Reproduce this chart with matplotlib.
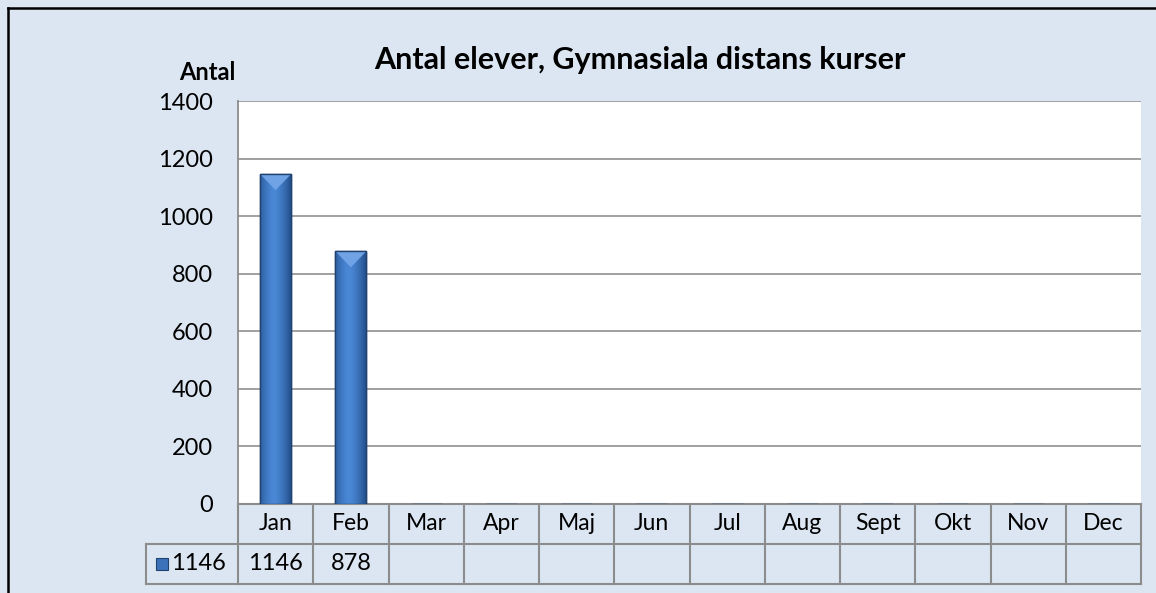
import numpy as np
import matplotlib
matplotlib.use("Agg")
import matplotlib.pyplot as plt
from matplotlib.lines import Line2D
from matplotlib.patches import Rectangle, Polygon
from matplotlib.colors import LinearSegmentedColormap
import matplotlib.transforms as mtransforms

# Datos
manader = ['Jan', 'Feb', 'Mar', 'Apr', 'Maj', 'Jun', 'Jul', 'Aug', 'Sept', 'Okt', 'Nov', 'Dec']
antal = [1146, 878, None, None, None, None, None, None, None, None, None, None]
serie_namn = '1146'
y_ticks = [0, 200, 400, 600, 800, 1000, 1200, 1400]

plt.rcParams['font.family'] = ['Lato', 'DejaVu Sans']

bg = '#DCE6F2'
linje = '#8C8C8C'

fig = plt.figure(figsize=(11.56, 5.93), dpi=100)
fig.patch.set_facecolor(bg)

ax = fig.add_axes([238 / 1156, 89 / 593, 903 / 1156, 403 / 593])
ax.set_facecolor('white')

x = np.arange(len(manader))
varden = [v if v is not None else 0 for v in antal]
bars = ax.bar(x, varden, width=0.41, color='#3B72BA', edgecolor='#1F426F', linewidth=1, zorder=3)

# gradient i staplarna
grad = np.linspace(0, 1, 64)
grad = 1 - (2 * np.abs(grad - 0.45)) ** 1.5
grad = np.tile(grad, (2, 1))
cmap = LinearSegmentedColormap.from_list('blabar', ['#24508C', '#4A88D6'])
for b, v in zip(bars, antal):
    if v is None:
        continue
    x0, w, h = b.get_x(), b.get_width(), b.get_height()
    im = ax.imshow(grad, cmap=cmap, extent=(x0, x0 + w, 0, h), aspect='auto', zorder=3.5)
    im.set_clip_path(b)
    # ljus avfasning upptill
    d = 16 * 1400 / 403
    ax.add_patch(Polygon([(x0, h), (x0 + w, h), (x0 + w * 0.5, h - d)], closed=True,
                         facecolor='#6FA3E6', edgecolor='none', zorder=3.8))
    ax.add_patch(Rectangle((x0, 0), w, h, fill=False, edgecolor='#1F426F', linewidth=1, zorder=4))

ax.set_xlim(-0.5, len(manader) - 0.5)
ax.set_ylim(0, 1400)
ax.set_yticks(y_ticks)
ax.set_yticklabels([str(t) for t in y_ticks], fontsize=17)
ax.tick_params(axis='y', length=0, pad=18)
ax.set_xticks([])
ax.yaxis.grid(True, color='#868686', linewidth=1.1, zorder=0)
ax.set_axisbelow(True)
for s in ['top', 'right', 'bottom']:
    ax.spines[s].set_visible(False)
ax.spines['left'].set_color(linje)
ax.spines['left'].set_linewidth(1.3)

# tabell under diagrammet
trans = mtransforms.blended_transform_factory(ax.transData, ax.transAxes)
rad = 40 / 403
lw = 1.5
for i in range(len(manader) + 1):
    ax.add_line(Line2D([i - 0.5, i - 0.5], [0, -2 * rad], transform=trans, color=linje, lw=lw, clip_on=False))
for yy in [0, -rad, -2 * rad]:
    ax.add_line(Line2D([-0.5, len(manader) - 0.5], [yy, yy], transform=trans, color=linje, lw=lw, clip_on=False))
for i, m in enumerate(manader):
    ax.text(i, -0.5 * rad, m, transform=trans, ha='center', va='center', fontsize=16.5)
    if antal[i] is not None:
        ax.text(i, -1.5 * rad, str(antal[i]), transform=trans, ha='center', va='center', fontsize=17)

# legendcell
lx = (146 - 238) / 903
ax.add_line(Line2D([lx, 0], [-rad, -rad], transform=ax.transAxes, color=linje, lw=lw, clip_on=False))
ax.add_line(Line2D([lx, 0], [-2 * rad, -2 * rad], transform=ax.transAxes, color=linje, lw=lw, clip_on=False))
ax.add_line(Line2D([lx, lx], [-rad, -2 * rad], transform=ax.transAxes, color=linje, lw=lw, clip_on=False))
ax.add_patch(Rectangle((lx + 10 / 903, -1.5 * rad - 6 / 403), 12 / 903, 12 / 403, transform=ax.transAxes,
                       facecolor='#3B72BA', edgecolor='#1F426F', linewidth=0.8, clip_on=False))
ax.text(lx + 25 / 903, -1.5 * rad, serie_namn, transform=ax.transAxes, ha='left', va='center', fontsize=17)

# titlar
fig.text(640 / 1156, 1 - 60 / 593, 'Antal elever, Gymnasiala distans kurser', ha='center', va='center',
         fontsize=22, fontweight='bold')
fig.text(207 / 1156, 1 - 72 / 593, 'Antal', ha='center', va='center', fontsize=17, fontweight='bold')

# ram
fig.add_artist(Line2D([8 / 1156, 1], [1 - 8 / 593, 1 - 8 / 593], color='black', lw=1.8))
fig.add_artist(Line2D([8 / 1156, 8 / 1156], [0, 1 - 8 / 593], color='black', lw=1.8))

fig.savefig('out.png', dpi=100, facecolor=bg)
